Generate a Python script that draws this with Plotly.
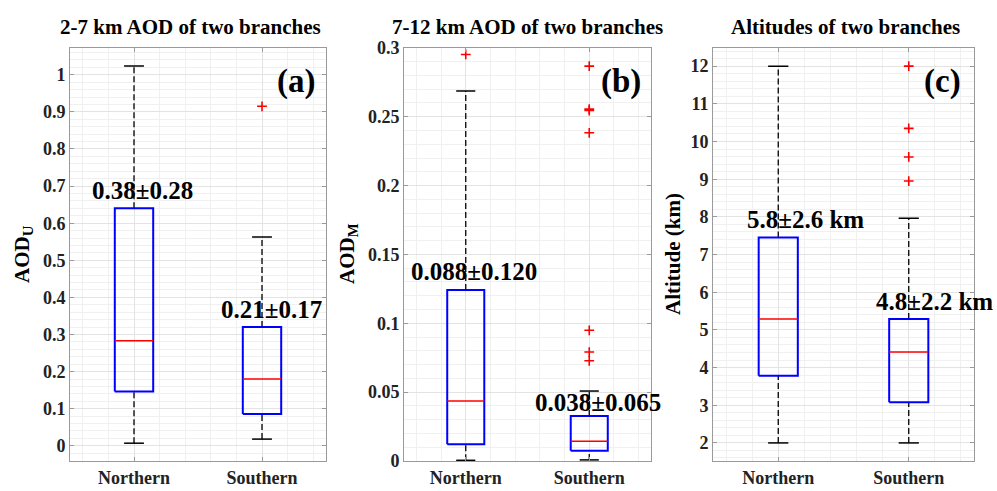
import plotly.graph_objects as go

# ---------------- data ----------------
categories = ["Northern", "Southern"]
positions = [1, 2]

# Panel (a): 2-7 km AOD
aodu_lower = [0.007, 0.018]
aodu_q1 = [0.146, 0.086]
aodu_median = [0.283, 0.180]
aodu_q3 = [0.640, 0.320]
aodu_upper = [1.024, 0.563]
aodu_outliers = [[], [0.915]]
aodu_labels = ["0.38±0.28", "0.21±0.17"]

# Panel (b): 7-12 km AOD
aodm_lower = [0.0005, 0.0008]
aodm_q1 = [0.0121, 0.0075]
aodm_median = [0.0435, 0.0143]
aodm_q3 = [0.1241, 0.0327]
aodm_upper = [0.2686, 0.0508]
aodm_outliers = [[0.2952], [0.2867, 0.2555, 0.2545, 0.2383, 0.0949, 0.0791, 0.0728]]
aodm_labels = ["0.088±0.120", "0.038±0.065"]

# Panel (c): altitudes
alt_lower = [2.0, 2.0]
alt_q1 = [3.78, 3.08]
alt_median = [5.29, 4.41]
alt_q3 = [7.45, 5.29]
alt_upper = [12.0, 7.96]
alt_outliers = [[], [12.0, 10.35, 9.59, 8.95]]
alt_labels = ["5.8±2.6 km", "4.8±2.2 km"]

titles = ["2-7 km AOD of two branches", "7-12 km AOD of two branches", "Altitudes of two branches"]
ylabels = ["AOD<sub>U</sub>", "AOD<sub>M</sub>", "Altitude (km)"]
panel_tags = ["(a)", "(b)", "(c)"]

# ---------------- styling ----------------
W, H = 997, 491
FONT = "Liberation Serif"
BOX_W = 0.30
CAP_W = 0.155

panels = [
    dict(lo=aodu_lower, q1=aodu_q1, med=aodu_median, q3=aodu_q3, up=aodu_upper, out=aodu_outliers,
         labels=aodu_labels, xdom=(70, 326), yrange=[-0.041, 1.073], dtick=0.1, minor=0.02,
         lab_dx=[8, 9.5], lab_dy=[18, 18], title_x=190, ylab_x=23, tag_x=296),
    dict(lo=aodm_lower, q1=aodm_q1, med=aodm_median, q3=aodm_q3, up=aodm_upper, out=aodm_outliers,
         labels=aodm_labels, xdom=(404, 651), yrange=[0, 0.3001], dtick=0.05, minor=0.01,
         lab_dx=[8, 9], lab_dy=[19, 13], title_x=527.5, ylab_x=348, tag_x=621),
    dict(lo=alt_lower, q1=alt_q1, med=alt_median, q3=alt_q3, up=alt_upper, out=alt_outliers,
         labels=alt_labels, xdom=(713, 974), yrange=[1.52, 12.49], dtick=1, minor=0.2,
         lab_dx=[27.5, 26], lab_dy=[18, 17], title_x=845, ylab_x=673, tag_x=942),
]

Y_TOP, Y_BOT = 47.7, 461

fig = go.Figure()
annotations = []
layout_axes = {}

for k, p in enumerate(panels):
    xa = "x" if k == 0 else f"x{k+1}"
    ya = "y" if k == 0 else f"y{k+1}"
    for i, pos in enumerate(positions):
        common = dict(xaxis=xa, yaxis=ya, showlegend=False, hoverinfo="skip", mode="lines")
        # whiskers
        fig.add_trace(go.Scatter(x=[pos, pos], y=[p["q3"][i], p["up"][i]],
                                 line=dict(color="black", width=1.3, dash="6px,3px"), **common))
        fig.add_trace(go.Scatter(x=[pos, pos], y=[p["lo"][i], p["q1"][i]],
                                 line=dict(color="black", width=1.3, dash="6px,3px"), **common))
        # caps
        fig.add_trace(go.Scatter(x=[pos - CAP_W / 2, pos + CAP_W / 2], y=[p["up"][i]] * 2,
                                 line=dict(color="black", width=1.5), **common))
        fig.add_trace(go.Scatter(x=[pos - CAP_W / 2, pos + CAP_W / 2], y=[p["lo"][i]] * 2,
                                 line=dict(color="black", width=1.5), **common))
        # box
        fig.add_trace(go.Scatter(
            x=[pos - BOX_W / 2, pos + BOX_W / 2, pos + BOX_W / 2, pos - BOX_W / 2, pos - BOX_W / 2],
            y=[p["q1"][i], p["q1"][i], p["q3"][i], p["q3"][i], p["q1"][i]],
            line=dict(color="#0000ff", width=2), **common))
        # median
        fig.add_trace(go.Scatter(x=[pos - BOX_W / 2, pos + BOX_W / 2], y=[p["med"][i]] * 2,
                                 line=dict(color="#ff0000", width=1.5), **common))
        # outliers
        if p["out"][i]:
            fig.add_trace(go.Scatter(x=[pos] * len(p["out"][i]), y=p["out"][i], mode="markers",
                                     marker=dict(symbol="cross-thin", size=7,
                                                 line=dict(color="#ff0000", width=1.6)),
                                     xaxis=xa, yaxis=ya, showlegend=False, hoverinfo="skip"))
        # mean +- std label
        annotations.append(dict(x=pos, y=p["q3"][i], xref=xa, yref=ya, text=p["labels"][i],
                                showarrow=False, xanchor="center", yanchor="middle",
                                xshift=p["lab_dx"][i], yshift=p["lab_dy"][i],
                                font=dict(family=FONT, size=25, color="black", weight="bold")))

    x0, x1 = p["xdom"]
    axis_common = dict(showline=True, linecolor="#9a9a9a", linewidth=1, mirror="ticks",
                       ticks="inside", ticklen=4, tickcolor="#9a9a9a", automargin=False,
                       tickfont=dict(family=FONT, size=18, color="#222222", weight="bold"),
                       showgrid=True, gridcolor="#e3e3e3", gridwidth=1, zeroline=False)
    layout_axes["xaxis" if k == 0 else f"xaxis{k+1}"] = dict(
        domain=[x0 / W, x1 / W], range=[0.5, 2.5], tickmode="array", tickvals=positions,
        ticktext=categories, anchor=ya,
        minor=dict(dtick=0.2, tick0=0, showgrid=True, gridcolor="#f0f0f0", gridwidth=1, ticks=""),
        **axis_common)
    layout_axes["yaxis" if k == 0 else f"yaxis{k+1}"] = dict(
        domain=[(H - Y_BOT) / H, (H - Y_TOP) / H], range=p["yrange"], tick0=0, dtick=p["dtick"],
        anchor=xa,
        minor=dict(dtick=p["minor"], tick0=0, showgrid=True, gridcolor="#f0f0f0", gridwidth=1, ticks=""),
        **axis_common)

    # title
    annotations.append(dict(x=p["title_x"] / W, y=1 - 27 / H, xref="paper", yref="paper",
                            text=titles[k], showarrow=False, xanchor="center", yanchor="middle",
                            font=dict(family=FONT, size=21, color="black", weight="bold")))
    # y label
    annotations.append(dict(x=p["ylab_x"] / W, y=1 - 254 / H, xref="paper", yref="paper",
                            text=ylabels[k], showarrow=False, textangle=-90,
                            xanchor="center", yanchor="middle",
                            font=dict(family=FONT, size=21, color="black", weight="bold")))
    # panel tag
    annotations.append(dict(x=p["tag_x"] / W, y=1 - 81 / H, xref="paper", yref="paper",
                            text=panel_tags[k], showarrow=False, xanchor="center", yanchor="middle",
                            font=dict(family=FONT, size=33, color="black", weight="bold")))

fig.update_layout(width=W, height=H, margin=dict(l=0, r=0, t=0, b=0, pad=0),
                  autosize=False,
                  paper_bgcolor="white", plot_bgcolor="white",
                  annotations=annotations, **layout_axes)

fig.write_html("out.html", config={"displayModeBar": False},
               post_script="document.body.style.margin='0px';")
